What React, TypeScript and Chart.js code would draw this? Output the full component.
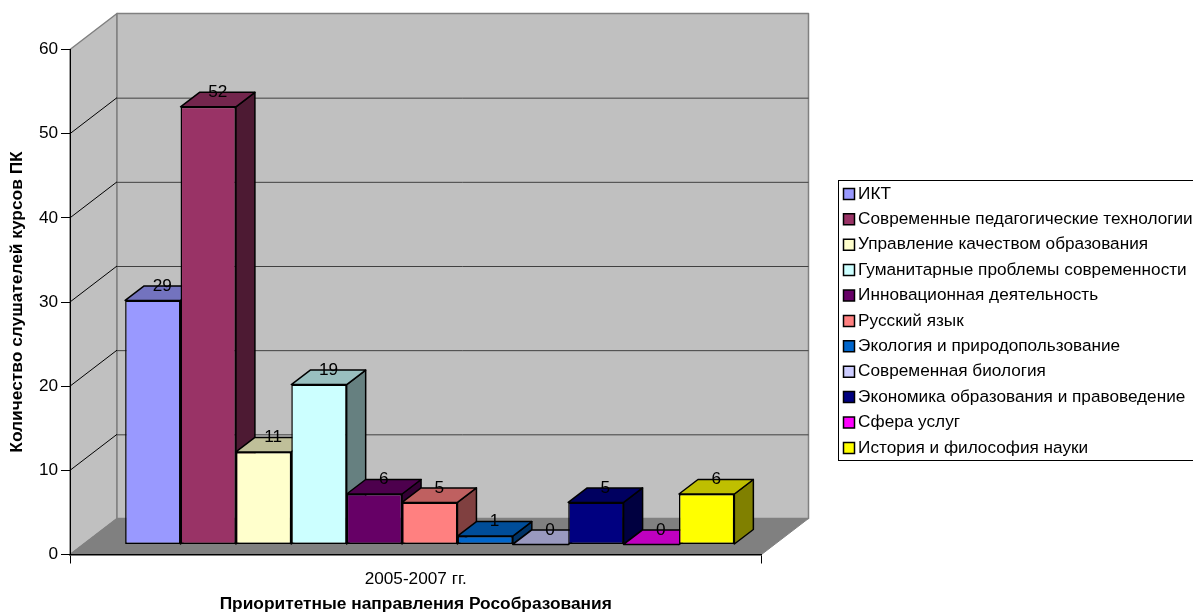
import React, { useEffect, useRef } from "react";
import { Chart, registerables } from "chart.js";

Chart.register(...registerables);

const categories = ["2005-2007 гг."];
const seriesNames = [
  "ИКТ",
  "Современные педагогические технологии",
  "Управление качеством образования",
  "Гуманитарные проблемы современности",
  "Инновационная деятельность",
  "Русский язык",
  "Экология и природопользование",
  "Современная биология",
  "Экономика образования и правоведение",
  "Сфера услуг",
  "История и философия науки",
];
const seriesValues = [29, 52, 11, 19, 6, 5, 1, 0, 5, 0, 6];
const seriesColors = [
  "#9999FF",
  "#993366",
  "#FFFFCC",
  "#CCFFFF",
  "#660066",
  "#FF8080",
  "#0066CC",
  "#CCCCFF",
  "#000080",
  "#FF00FF",
  "#FFFF00",
];
const yTitle = "Количество слушателей курсов ПК";
const xTitle = "Приоритетные направления Рособразования";
const FONT = "'Liberation Sans', Arial, sans-serif";
const TEXT_SIZE = 17.2;
const TITLE_SIZE = 17.33;

const WALL_DX = 47;
const WALL_DY = -36;
const BAR_SHIFT_X = 14;
const BAR_SHIFT_Y = -10;
const BAR_DX = 19;
const BAR_DY = -14.5;

function shade(hex: string, f: number) {
  const n = parseInt(hex.slice(1), 16);
  const r = Math.round(((n >> 16) & 255) * f);
  const g = Math.round(((n >> 8) & 255) * f);
  const b = Math.round((n & 255) * f);
  return `rgb(${r},${g},${b})`;
}

function poly(ctx: CanvasRenderingContext2D, pts: number[][], fill: string | null, stroke: string | null, lw = 1) {
  ctx.beginPath();
  pts.forEach((p, i) => (i ? ctx.lineTo(p[0], p[1]) : ctx.moveTo(p[0], p[1])));
  ctx.closePath();
  if (fill) {
    ctx.fillStyle = fill;
    ctx.fill();
  }
  if (stroke) {
    ctx.strokeStyle = stroke;
    ctx.lineWidth = lw;
    ctx.lineJoin = "round";
    ctx.stroke();
  }
}

const box3d = {
  id: "box3d",
  afterLayout(chart: any) {
    const l = chart.legend;
    if (!l) return;
    l.left = 840.3;
    l.right = 1193;
    l.top = 177.1;
    l.bottom = 612;
    l.width = l.right - l.left;
    l.height = l.bottom - l.top;
  },
  beforeDraw(chart: any) {
    const { ctx, chartArea: a, scales } = chart;
    const { left: L, right: R, bottom: B, top: T } = a;
    ctx.save();
    ctx.fillStyle = "#fff";
    ctx.fillRect(838, 180.5, 356, 280);
    ctx.strokeStyle = "#000";
    ctx.lineWidth = 1;
    ctx.strokeRect(838.5, 180.5, 356, 280);
    poly(ctx, [[L, T], [L + WALL_DX, T + WALL_DY], [L + WALL_DX, B + WALL_DY], [L, B]], "#C0C0C0", "#808080", 1.5);
    poly(ctx, [[L + WALL_DX, T + WALL_DY], [R + WALL_DX, T + WALL_DY], [R + WALL_DX, B + WALL_DY], [L + WALL_DX, B + WALL_DY]], "#C0C0C0", "#808080", 1.5);
    poly(ctx, [[L, B], [R, B], [R + WALL_DX, B + WALL_DY], [L + WALL_DX, B + WALL_DY]], "#808080", "#808080", 1);
    const y = scales.y;
    y.ticks.forEach((t: any) => {
      if (t.value <= 0 || t.value >= 60) return;
      const py = y.getPixelForValue(t.value);
      ctx.beginPath();
      ctx.moveTo(L, py);
      ctx.lineTo(L + WALL_DX, py + WALL_DY);
      ctx.strokeStyle = "#000";
      ctx.lineWidth = 1;
      ctx.stroke();
      ctx.beginPath();
      ctx.moveTo(L + WALL_DX, py + WALL_DY + 0.5);
      ctx.lineTo(R + WALL_DX, py + WALL_DY + 0.5);
      ctx.strokeStyle = "#404040";
      ctx.lineWidth = 1;
      ctx.stroke();
    });
    ctx.restore();
  },
  beforeDatasetsDraw(chart: any) {
    const { ctx } = chart;
    ctx.save();
    ctx.translate(BAR_SHIFT_X, BAR_SHIFT_Y);
    chart.data.datasets.forEach((ds: any, i: number) => {
      const bar = chart.getDatasetMeta(i).data[0];
      if (!bar) return;
      const { x, y, base, width } = bar.getProps(["x", "y", "base", "width"], true);
      const x0 = x - width / 2;
      const x1 = x + width / 2;
      const c = seriesColors[i];
      poly(ctx, [[x1, y], [x1 + BAR_DX, y + BAR_DY], [x1 + BAR_DX, base + BAR_DY], [x1, base]], shade(c, 0.5), "#000", 1.5);
      poly(ctx, [[x0, y], [x0 + BAR_DX, y + BAR_DY], [x1 + BAR_DX, y + BAR_DY], [x1, y]], shade(c, 0.75), "#000", 1.5);
    });
  },
  afterDatasetsDraw(chart: any) {
    const { ctx } = chart;
    ctx.font = `${TEXT_SIZE}px ${FONT}`;
    ctx.fillStyle = "#000";
    ctx.textAlign = "center";
    ctx.textBaseline = "middle";
    chart.data.datasets.forEach((ds: any, i: number) => {
      const bar = chart.getDatasetMeta(i).data[0];
      if (!bar) return;
      const { x, y } = bar.getProps(["x", "y"], true);
      ctx.fillText(String(ds.data[0]), x + BAR_DX / 2, y + BAR_DY);
    });
    ctx.restore();
  },
};

export default function App() {
  const ref = useRef<HTMLCanvasElement>(null);
  useEffect(() => {
    const chart = new Chart(ref.current as HTMLCanvasElement, {
      type: "bar",
      data: {
        labels: categories,
        datasets: seriesNames.map((name, i) => ({
          label: name,
          data: [seriesValues[i]],
          backgroundColor: seriesColors[i],
          borderColor: "#000",
          borderWidth: 1.5,
          borderSkipped: false,
          clip: false as any,
        })),
      },
      options: {
        responsive: false,
        animation: false,
        devicePixelRatio: 1,
        layout: { padding: { top: 49.5, right: 431.5, left: 0, bottom: 0 } },
        datasets: { bar: { categoryPercentage: 0.881, barPercentage: 1 } },
        plugins: {
          tooltip: { enabled: false },
          legend: {
            display: true,
            position: "chartArea" as any,
            align: "start",
            labels: {
              usePointStyle: true,
              pointStyle: "rect",
              boxWidth: 1,
              boxHeight: 11,
              padding: 8.2,
              color: "#000",
              font: { family: FONT, size: TEXT_SIZE },
            },
          },
        },
        scales: {
          x: {
            offset: true,
            afterFit: (s: any) => {
              s.height = 57.5;
            },
            grid: { drawOnChartArea: false, drawTicks: true, tickLength: 9, color: "#000", offset: true },
            border: { color: "#000", width: 1.5 },
            ticks: { color: "#000", font: { family: FONT, size: TEXT_SIZE }, padding: 5 },
            title: {
              display: true,
              text: xTitle,
              color: "#000",
              font: { family: FONT, size: TITLE_SIZE, weight: "bold" },
              padding: { top: 2, bottom: -2.4 },
            },
          },
          y: {
            min: 0,
            max: 60,
            afterFit: (s: any) => {
              s.width = 70;
            },
            grid: { drawOnChartArea: false, drawTicks: true, tickLength: 9, color: "#000" },
            border: { color: "#000", width: 1 },
            ticks: { stepSize: 10, color: "#000", font: { family: FONT, size: TEXT_SIZE }, padding: 3 },
            title: {
              display: true,
              text: yTitle,
              color: "#000",
              font: { family: FONT, size: TITLE_SIZE, weight: "bold" },
              padding: { top: 6.4, bottom: 0 },
            },
          },
        },
      },
      plugins: [box3d as any],
    });
    return () => chart.destroy();
  }, []);
  return (
    <canvas
      ref={ref}
      width={1193}
      height={612}
      style={{ position: "absolute", left: 0, top: 0, display: "block", width: 1193, height: 612 }}
    />
  );
}
